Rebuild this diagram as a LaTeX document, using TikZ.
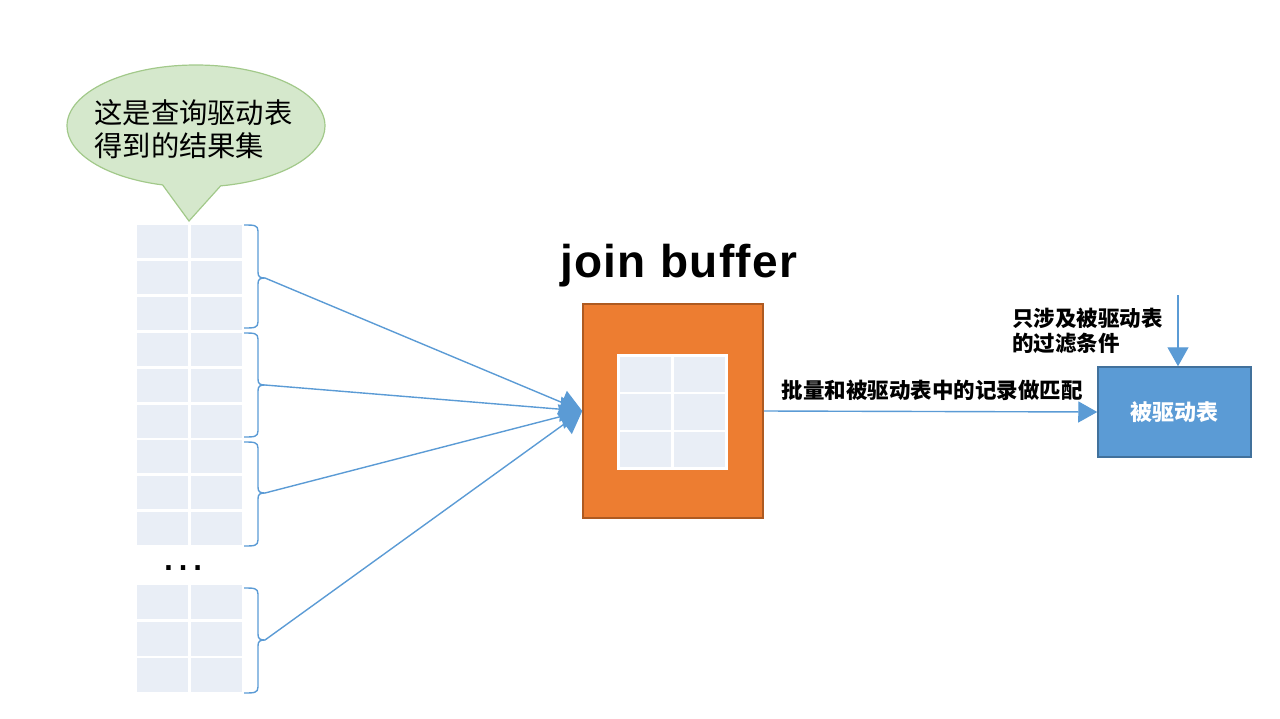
\documentclass[tikz,border=0pt]{standalone}
\usepackage{fontspec}
\setmainfont{Liberation Sans}
\newfontfamily\cjk{Noto Sans CJK SC}
\usetikzlibrary{shapes.callouts,arrows.meta}
\definecolor{cellc}{HTML}{E9EEF6}
\definecolor{linec}{HTML}{5B9BD5}
\definecolor{orangef}{HTML}{ED7D31}
\definecolor{oranged}{HTML}{AE5A21}
\definecolor{bluef}{HTML}{5B9BD5}
\definecolor{blued}{HTML}{41719C}
\definecolor{bubf}{HTML}{D5E8CC}
\definecolor{bubd}{HTML}{A2C98A}
\newcommand\bracegrp[4]{%
  \draw[bracestyle] (244,#1) .. controls (254,#1) and (258,#1) .. (258,{#1+6})
    -- (258,{#2-6}) .. controls (258,{#2-1}) and (260,#2) .. (265,#2)
    .. controls (260,#2) and (258,{#2+1}) .. (258,{#2+6})
    -- (258,{#3-6}) .. controls (258,#3) and (254,#3) .. (244,#3);
  \coordinate (#4) at (265,#2);}
\begin{document}
\begin{tikzpicture}[x=1pt,y=-1pt,
  bracestyle/.style={draw=linec,line width=1.4pt},
  conn/.style={draw=linec,line width=1.4pt,-{Triangle[length=22pt,width=25pt]}},
  conn2/.style={draw=linec,line width=1.4pt,-{Triangle[length=19pt,width=21pt]}},
  cjkb/.style={font=\cjk\bfseries\fontsize{#1}{25}\selectfont}]
\useasboundingbox (0,0) rectangle (1280,718);
% bubble
\node[ellipse callout, draw=bubd, fill=bubf, line width=1.2pt,
  minimum width=258pt, minimum height=122pt, inner sep=0pt,
  callout absolute pointer={(189,221)}, callout pointer arc=26] (bubble) at (196,126) {};
\node[align=left, inner sep=0pt, font=\cjk\fontsize{28.3}{33}\selectfont] (bubtxt) at (193.5,129)
  {这是查询驱动表\\得到的结果集};
% left table
\foreach \i in {0,...,8} {
  \fill[cellc] (137,{225+35.9*\i}) rectangle (188,{225+35.9*\i+33});
  \fill[cellc] (191,{225+35.9*\i}) rectangle (242,{225+35.9*\i+33});
}
\foreach \i in {0,1,2} {
  \fill[cellc] (137,{585+36.6*\i}) rectangle (188,{585+36.6*\i+34});
  \fill[cellc] (191,{585+36.6*\i}) rectangle (242,{585+36.6*\i+34});
}
\node[anchor=base, font=\fontsize{46}{46}\selectfont, inner sep=0pt] (dots) at (183,570) {…};
% braces
\bracegrp{225}{278}{328}{b1}
\bracegrp{333}{385}{437}{b2}
\bracegrp{442}{493}{546}{b3}
\bracegrp{588}{640}{693}{b4}
% join buffer
\node[anchor=base west, inner sep=0pt, font=\bfseries\fontsize{46}{46}\selectfont\addfontfeature{LetterSpace=3}] (jbl) at (560,277) {join buffer};
\node[draw=oranged, fill=orangef, line width=1.5pt, minimum width=180pt, minimum height=214pt] (jb) at (673,411) {};
\fill[white] (617,354) rectangle (728,470);
\foreach \c in {0,1} \foreach \r in {0,1,2} {
  \fill[cellc] ({619.5+54.2*\c},{356.5+37.8*\r}) rectangle ({619.5+54.2*\c+51.7},{356.5+37.8*\r+35.3});
}
% connectors into join buffer
\foreach \b in {b1,b2,b3,b4} \draw[conn] (\b) -- (jb.west);
% driven table
\node[draw=blued, fill=bluef, line width=1.5pt, minimum width=153pt, minimum height=90pt,
  text=white, cjkb=22] (drv) at (1174.5,412) {被驱动表};
\draw[conn2] (jb.east) -- (drv.west);
\node[cjkb=21.5, inner sep=0pt] (match) at (932,390) {批量和被驱动表中的记录做匹配};
\coordinate (ftop) at (1178,295);
\draw[conn2] (ftop) -- (ftop |- drv.north);
\node[anchor=west, align=left, inner sep=0pt, font=\cjk\bfseries\fontsize{21.5}{25}\selectfont] (flt) at (1012,330.5)
  {只涉及被驱动表\\的过滤条件};
\end{tikzpicture}
\end{document}
